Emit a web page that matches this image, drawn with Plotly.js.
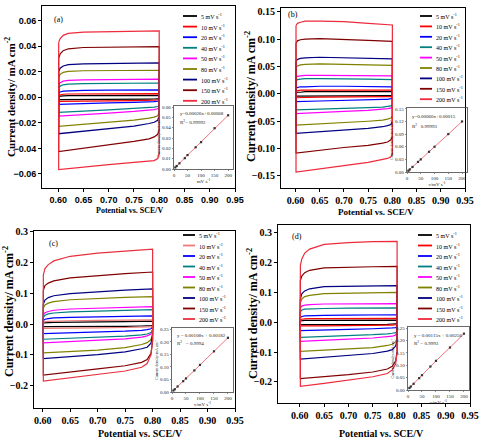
<!DOCTYPE html>
<html><head><meta charset="utf-8">
<script src="https://cdn.plot.ly/plotly-3.0.1.min.js"></script>
<style>html,body{margin:0;padding:0;background:#fff}#chart{width:479px;height:440px}</style>
</head><body><div id="chart"></div>
<script>
// ---------- DATA ----------
const RATES = [5, 10, 20, 40, 50, 80, 100, 150, 200];
const RATE_LABELS = ['5 mV s<sup>-1</sup>','10 mV s<sup>-1</sup>','20 mV s<sup>-1</sup>','40 mV s<sup>-1</sup>','50 mV s<sup>-1</sup>','80 mV s<sup>-1</sup>','100 mV s<sup>-1</sup>','150 mV s<sup>-1</sup>','200 mV s<sup>-1</sup>'];
const COLORS = ['#000000','#ff0000','#0000ff','#008080','#ff00ff','#808000','#000080','#800000','#ee2a3c'];
const COLORS_C = ['#000000','#f07a7a','#0000ff','#008080','#ff00ff','#808000','#000080','#800000','#e8303e'];

// potentials (V vs SCE): anodic sweep and cathodic sweep sample points
const E_UP = [0.601, 0.604, 0.61, 0.62, 0.65, 0.70, 0.75, 0.80];
const E_DN = [0.80, 0.797, 0.79, 0.78, 0.75, 0.70, 0.65, 0.601];

// panel (a) current density, mA cm-2
const A_UP = [
  [0.0008, 0.0010, 0.0012, 0.0013, 0.0014, 0.0015, 0.0015, 0.0016],
  [0.0015, 0.0020, 0.0024, 0.0026, 0.0027, 0.0028, 0.0028, 0.0029],
  [0.0035, 0.0042, 0.0048, 0.0051, 0.0054, 0.0056, 0.0057, 0.0058],
  [0.0075, 0.0088, 0.0098, 0.0104, 0.0108, 0.0110, 0.0111, 0.0112],
  [0.0100, 0.0115, 0.0127, 0.0133, 0.0137, 0.0140, 0.0141, 0.0142],
  [0.0160, 0.0180, 0.0195, 0.0203, 0.0208, 0.0210, 0.0211, 0.0212],
  [0.0205, 0.0228, 0.0245, 0.0256, 0.0262, 0.0266, 0.0268, 0.0269],
  [0.0305, 0.0340, 0.0365, 0.0380, 0.0390, 0.0394, 0.0396, 0.0397],
  [0.0430, 0.0460, 0.0485, 0.0500, 0.0510, 0.0515, 0.0518, 0.0520]
];
const A_DN = [
  [-0.0010, -0.0012, -0.0013, -0.0014, -0.0015, -0.0016, -0.0017, -0.0018],
  [-0.0015, -0.0019, -0.0022, -0.0024, -0.0026, -0.0028, -0.0030, -0.0032],
  [-0.0025, -0.0030, -0.0033, -0.0035, -0.0039, -0.0044, -0.0050, -0.0056],
  [-0.0065, -0.0072, -0.0076, -0.0079, -0.0087, -0.0098, -0.0108, -0.0118],
  [-0.0080, -0.0090, -0.0096, -0.0100, -0.0110, -0.0123, -0.0135, -0.0148],
  [-0.0120, -0.0145, -0.0155, -0.0163, -0.0178, -0.0195, -0.0212, -0.0228],
  [-0.0150, -0.0180, -0.0195, -0.0205, -0.0225, -0.0245, -0.0265, -0.0285],
  [-0.0250, -0.0290, -0.0310, -0.0325, -0.0345, -0.0370, -0.0395, -0.0425],
  [-0.0440, -0.0480, -0.0495, -0.0500, -0.0510, -0.0527, -0.0545, -0.0565]
];

// panel (b)
const B_UP = [
  [0.002, 0.003, 0.003, 0.004, 0.004, 0.004, 0.004, 0.004],
  [0.005, 0.006, 0.007, 0.007, 0.007, 0.007, 0.007, 0.007],
  [0.011, 0.012, 0.013, 0.013, 0.014, 0.014, 0.013, 0.013],
  [0.024, 0.026, 0.027, 0.028, 0.028, 0.028, 0.027, 0.026],
  [0.030, 0.032, 0.033, 0.034, 0.034, 0.034, 0.034, 0.033],
  [0.049, 0.051, 0.053, 0.054, 0.055, 0.054, 0.053, 0.052],
  [0.060, 0.063, 0.065, 0.066, 0.067, 0.066, 0.065, 0.064],
  [0.093, 0.097, 0.099, 0.100, 0.101, 0.100, 0.098, 0.096],
  [0.125, 0.129, 0.131, 0.133, 0.133, 0.132, 0.129, 0.126]
];
const B_DN = [
  [-0.002, -0.003, -0.003, -0.003, -0.003, -0.003, -0.003, -0.004],
  [-0.004, -0.005, -0.005, -0.005, -0.006, -0.006, -0.006, -0.007],
  [-0.008, -0.009, -0.010, -0.010, -0.011, -0.012, -0.013, -0.014],
  [-0.020, -0.022, -0.023, -0.024, -0.025, -0.026, -0.027, -0.029],
  [-0.024, -0.026, -0.027, -0.028, -0.030, -0.032, -0.034, -0.036],
  [-0.040, -0.044, -0.046, -0.048, -0.050, -0.052, -0.055, -0.057],
  [-0.050, -0.056, -0.058, -0.060, -0.063, -0.066, -0.069, -0.072],
  [-0.078, -0.084, -0.088, -0.090, -0.094, -0.098, -0.103, -0.108],
  [-0.110, -0.115, -0.118, -0.120, -0.125, -0.131, -0.137, -0.143]
];

// panel (c)
const C_UP = [
  [0.004, 0.005, 0.005, 0.006, 0.006, 0.007, 0.008, 0.010],
  [0.006, 0.008, 0.009, 0.010, 0.011, 0.012, 0.013, 0.014],
  [0.012, 0.016, 0.018, 0.020, 0.022, 0.024, 0.025, 0.027],
  [0.022, 0.029, 0.033, 0.036, 0.040, 0.043, 0.045, 0.047],
  [0.030, 0.037, 0.041, 0.045, 0.049, 0.052, 0.055, 0.057],
  [0.052, 0.062, 0.068, 0.073, 0.079, 0.084, 0.087, 0.089],
  [0.065, 0.078, 0.086, 0.092, 0.099, 0.105, 0.110, 0.114],
  [0.110, 0.125, 0.133, 0.140, 0.150, 0.158, 0.164, 0.169],
  [0.160, 0.180, 0.193, 0.205, 0.220, 0.230, 0.237, 0.243]
];
const C_DN = [
  [-0.004, -0.005, -0.006, -0.006, -0.007, -0.007, -0.008, -0.008],
  [-0.006, -0.008, -0.009, -0.010, -0.011, -0.012, -0.013, -0.014],
  [-0.010, -0.015, -0.018, -0.020, -0.023, -0.025, -0.028, -0.031],
  [-0.018, -0.027, -0.032, -0.035, -0.039, -0.043, -0.046, -0.049],
  [-0.020, -0.032, -0.038, -0.042, -0.048, -0.053, -0.057, -0.061],
  [-0.030, -0.050, -0.060, -0.066, -0.076, -0.084, -0.089, -0.093],
  [-0.035, -0.062, -0.075, -0.080, -0.090, -0.099, -0.106, -0.112],
  [-0.055, -0.095, -0.115, -0.124, -0.135, -0.145, -0.155, -0.165],
  [-0.050, -0.100, -0.128, -0.140, -0.152, -0.163, -0.173, -0.185]
];

// panel (d)
const D_UP = [
  [0.004, 0.005, 0.006, 0.006, 0.006, 0.006, 0.007, 0.007],
  [0.008, 0.010, 0.011, 0.012, 0.012, 0.012, 0.012, 0.013],
  [0.016, 0.019, 0.021, 0.022, 0.023, 0.024, 0.024, 0.025],
  [0.036, 0.041, 0.044, 0.045, 0.046, 0.047, 0.047, 0.048],
  [0.048, 0.054, 0.057, 0.059, 0.061, 0.061, 0.062, 0.062],
  [0.065, 0.078, 0.086, 0.090, 0.096, 0.098, 0.099, 0.100],
  [0.078, 0.095, 0.105, 0.112, 0.119, 0.121, 0.122, 0.123],
  [0.140, 0.155, 0.166, 0.174, 0.182, 0.185, 0.186, 0.187],
  [0.190, 0.212, 0.232, 0.245, 0.261, 0.267, 0.270, 0.271]
];
const D_DN = [
  [-0.005, -0.006, -0.006, -0.007, -0.007, -0.007, -0.008, -0.008],
  [-0.008, -0.009, -0.010, -0.010, -0.011, -0.011, -0.012, -0.012],
  [-0.015, -0.018, -0.019, -0.020, -0.022, -0.024, -0.026, -0.028],
  [-0.030, -0.035, -0.037, -0.039, -0.042, -0.045, -0.048, -0.051],
  [-0.035, -0.043, -0.047, -0.049, -0.053, -0.057, -0.060, -0.064],
  [-0.052, -0.066, -0.074, -0.078, -0.085, -0.090, -0.094, -0.098],
  [-0.060, -0.080, -0.092, -0.097, -0.105, -0.112, -0.118, -0.124],
  [-0.100, -0.130, -0.148, -0.157, -0.167, -0.176, -0.183, -0.189],
  [-0.100, -0.140, -0.160, -0.172, -0.183, -0.195, -0.205, -0.215]
];

// insets: current density vs scan rate
const FIT_A = [0.0015, 0.0029, 0.0055, 0.0105, 0.0135, 0.0210, 0.0260, 0.0395, 0.0520];
const FIT_B = [0.003, 0.006, 0.012, 0.024, 0.030, 0.048, 0.060, 0.090, 0.120];
const FIT_C = [0.006, 0.011, 0.022, 0.043, 0.054, 0.086, 0.108, 0.162, 0.216];
const FIT_D = [0.008, 0.014, 0.025, 0.048, 0.060, 0.095, 0.118, 0.172, 0.228];
const EQ_A = ['y=0.00026x+0.00068', 'R^2= 0.99992'];
const EQ_B = ['y=0.00060x+0.00015', 'R^2   0.99993'];
const EQ_C = ['y = 0.00108x + 0.00182', 'R^2   = 0.9994'];
const EQ_D = ['y = 0.00115x + 0.00256', 'R^2 = 0.9993'];

// ---------- LAYOUT HELPERS ----------
const W = 479, H = 440;
const px = v => v / W;
const py = v => 1 - v / H;
const SERIF = 'Liberation Serif, Times New Roman, serif';
const SANS = 'Liberation Sans, Arial, sans-serif';

const panels = [
  {up: A_UP, dn: A_DN, colors: COLORS, xs: '', box: [42, 235, 6, 188], xr: [0.568, 0.95], yr: [-0.071, 0.0715], dtick: 0.02, fmt: '.2f',
   tickFont: {family: SANS, size: 9, color: '#000', weight: 'bold'}, label: '(a)', labelPos: [58, 20],
   ytitle: {x: 10, y: 97, size: 11}, xtitle: {x: 130, y: 211, size: 8},
   leg: {x0: 183, x1: 197, tx: 199, y0: 16, step: 10.6},
   fit: FIT_A, eq: EQ_A, ibox: [174, 233, 106, 169], iyr: [0, 0.061], idt: 0.01, ixt: 'mV s<sup>-1</sup>', eqPos: [178, 114, 122]},
  {up: B_UP, dn: B_DN, colors: COLORS, xs: '2', box: [281, 465, 8, 188], xr: [0.57, 0.95], yr: [-0.172, 0.157], dtick: 0.05, fmt: '.2f',
   tickFont: {family: SERIF, size: 10, color: '#000', weight: 'bold'}, label: '(b)', labelPos: [293, 15],
   ytitle: {x: 250, y: 97, size: 12}, xtitle: {x: 376, y: 212, size: 9},
   leg: {x0: 420, x1: 432, tx: 434, y0: 16, step: 10.4},
   fit: FIT_B, eq: EQ_B, ibox: [407, 467, 108, 172], iyr: [0, 0.152], idt: 0.03, ixt: '&#957;/mV s<sup>-1</sup>', eqPos: [410, 117, 126]},
  {up: C_UP, dn: C_DN, colors: COLORS_C, xs: '3', box: [34, 235, 231, 408], xr: [0.584, 0.95], yr: [-0.272, 0.302], dtick: 0.1, fmt: '.1f',
   tickFont: {family: SERIF, size: 10, color: '#000', weight: 'bold'}, label: '(c)', labelPos: [53, 243],
   ytitle: {x: 8, y: 312, size: 12}, xtitle: {x: 140, y: 433, size: 10},
   leg: {x0: 183, x1: 195, tx: 197, y0: 235, step: 10.5},
   fit: FIT_C, eq: EQ_C, ibox: [172, 233, 328, 392], iyr: [0, 0.255], idt: 0.05, ixt: '&#957;/mV s<sup>-1</sup>', eqPos: [175, 335, 343]},
  {up: D_UP, dn: D_DN, colors: COLORS, xs: '4', box: [278, 470, 225, 403], xr: [0.555, 0.95], yr: [-0.271, 0.326], dtick: 0.1, fmt: '.1f',
   tickFont: {family: SERIF, size: 10, color: '#000', weight: 'bold'}, label: '(d)', labelPos: [297, 236],
   ytitle: {x: 252, y: 314, size: 12}, xtitle: {x: 381, y: 433, size: 10},
   leg: {x0: 418, x1: 432, tx: 434, y0: 235, step: 10.5},
   fit: FIT_D, eq: EQ_D, ibox: [408, 469, 327, 390], iyr: [0, 0.255], idt: 0.05, ixt: '&#957;/mV s<sup>-1</sup>', eqPos: [412, 335, 343]}
];

const data = [];
const layout = {
  width: W, height: H, margin: {l: 0, r: 0, t: 0, b: 0},
  paper_bgcolor: '#fff', plot_bgcolor: 'rgba(0,0,0,0)', showlegend: false,
  shapes: [], annotations: []
};

panels.forEach((p, k) => {
  const xa = 'x' + p.xs, ya = 'y' + p.xs;
  RATES.forEach((r, i) => {
    data.push({
      type: 'scatter', mode: 'lines', xaxis: xa, yaxis: ya,
      x: E_UP.concat(E_DN, [E_UP[0]]),
      y: p.up[i].concat(p.dn[i], [p.up[i][0]]),
      line: {color: p.colors[i], width: 1.2}, name: RATE_LABELS[i], hoverinfo: 'skip'
    });
  });
  const axBase = {showgrid: false, zeroline: false, showline: true, mirror: true, linecolor: '#000', linewidth: 1,
    ticks: 'outside', ticklen: 3, tickwidth: 1, tickcolor: '#000'};
  layout['xaxis' + p.xs] = Object.assign({}, axBase, {
    domain: [px(p.box[0]), px(p.box[1])], range: p.xr, anchor: ya,
    tick0: 0.6, dtick: 0.05, tickformat: '.2f', tickfont: p.tickFont
  });
  layout['yaxis' + p.xs] = Object.assign({}, axBase, {
    domain: [py(p.box[3]), py(p.box[2])], range: p.yr, anchor: xa,
    tick0: 0, dtick: p.dtick, tickformat: p.fmt, tickfont: p.tickFont
  });
  // panel label
  layout.annotations.push({xref: 'paper', yref: 'paper', x: px(p.labelPos[0]), y: py(p.labelPos[1]),
    text: p.label, showarrow: false, xanchor: 'center', yanchor: 'middle', font: {family: SERIF, size: 8, color: '#000'}});
  // axis titles
  layout.annotations.push({xref: 'paper', yref: 'paper', x: px(p.ytitle.x), y: py(p.ytitle.y), textangle: -90,
    text: '<b>Current density/ mA cm<sup>-2</sup></b>', showarrow: false, xanchor: 'center', yanchor: 'middle',
    font: {family: SERIF, size: p.ytitle.size, color: '#000'}});
  layout.annotations.push({xref: 'paper', yref: 'paper', x: px(p.xtitle.x), y: py(p.xtitle.y),
    text: '<b>Potential vs. SCE/V</b>', showarrow: false, xanchor: 'center', yanchor: 'middle',
    font: {family: SERIF, size: p.xtitle.size, color: '#000'}});
  // legend
  RATES.forEach((r, i) => {
    const yy = p.leg.y0 + i * p.leg.step;
    layout.shapes.push({type: 'line', xref: 'paper', yref: 'paper', x0: px(p.leg.x0), x1: px(p.leg.x1), y0: py(yy), y1: py(yy),
      line: {color: p.colors[i], width: 1.8}});
    layout.annotations.push({xref: 'paper', yref: 'paper', x: px(p.leg.tx), y: py(yy), text: RATE_LABELS[i],
      showarrow: false, xanchor: 'left', yanchor: 'middle', font: {family: SERIF, size: 6, color: '#000'}});
  });
  // inset
  const ix = 'x' + (5 + k), iy = 'y' + (5 + k);
  data.push({type: 'scatter', mode: 'lines+markers', xaxis: ix, yaxis: iy, x: RATES, y: p.fit,
    line: {color: '#e8505a', width: 0.8}, marker: {color: '#333', size: 2.2, symbol: 'square'}, hoverinfo: 'skip'});
  const inBase = {showgrid: false, zeroline: false, showline: true, mirror: true, linecolor: '#444', linewidth: 0.8,
    ticks: 'outside', ticklen: 1.5, tickwidth: 0.6, tickcolor: '#444', tickfont: {family: SERIF, size: 5, color: '#222'}};
  layout['xaxis' + (5 + k)] = Object.assign({}, inBase, {domain: [px(p.ibox[0]), px(p.ibox[1])], range: [0, 218], anchor: iy,
    tick0: 0, dtick: 50, title: {text: p.ixt, font: {family: SERIF, size: 5, color: '#222'}, standoff: 1}});
  layout['yaxis' + (5 + k)] = Object.assign({}, inBase, {domain: [py(p.ibox[3]), py(p.ibox[2])], range: p.iyr, anchor: ix,
    tick0: 0, dtick: p.idt, tickformat: '.2f', title: {text: 'Current density/mA cm<sup>-2</sup>', font: {family: SERIF, size: 4, color: '#222'}, standoff: 1}});
  layout.shapes.push({type: 'rect', xref: 'paper', yref: 'paper', x0: px(p.ibox[0]), x1: px(p.ibox[1]), y0: py(p.ibox[3]), y1: py(p.ibox[2]),
    fillcolor: '#fff', line: {width: 0}, layer: 'below'});
  layout.annotations.push({xref: 'paper', yref: 'paper', x: px(p.eqPos[0]), y: py(p.eqPos[1]), text: p.eq[0].replace('^2', '<sup>2</sup>'),
    showarrow: false, xanchor: 'left', yanchor: 'middle', font: {family: SERIF, size: 5, color: '#222'}});
  layout.annotations.push({xref: 'paper', yref: 'paper', x: px(p.eqPos[0]), y: py(p.eqPos[2]), text: p.eq[1].replace('^2', '<sup>2</sup>'),
    showarrow: false, xanchor: 'left', yanchor: 'middle', font: {family: SERIF, size: 5, color: '#222'}});
});

Plotly.newPlot('chart', data, layout, {staticPlot: true, displayModeBar: false});
</script></body></html>
